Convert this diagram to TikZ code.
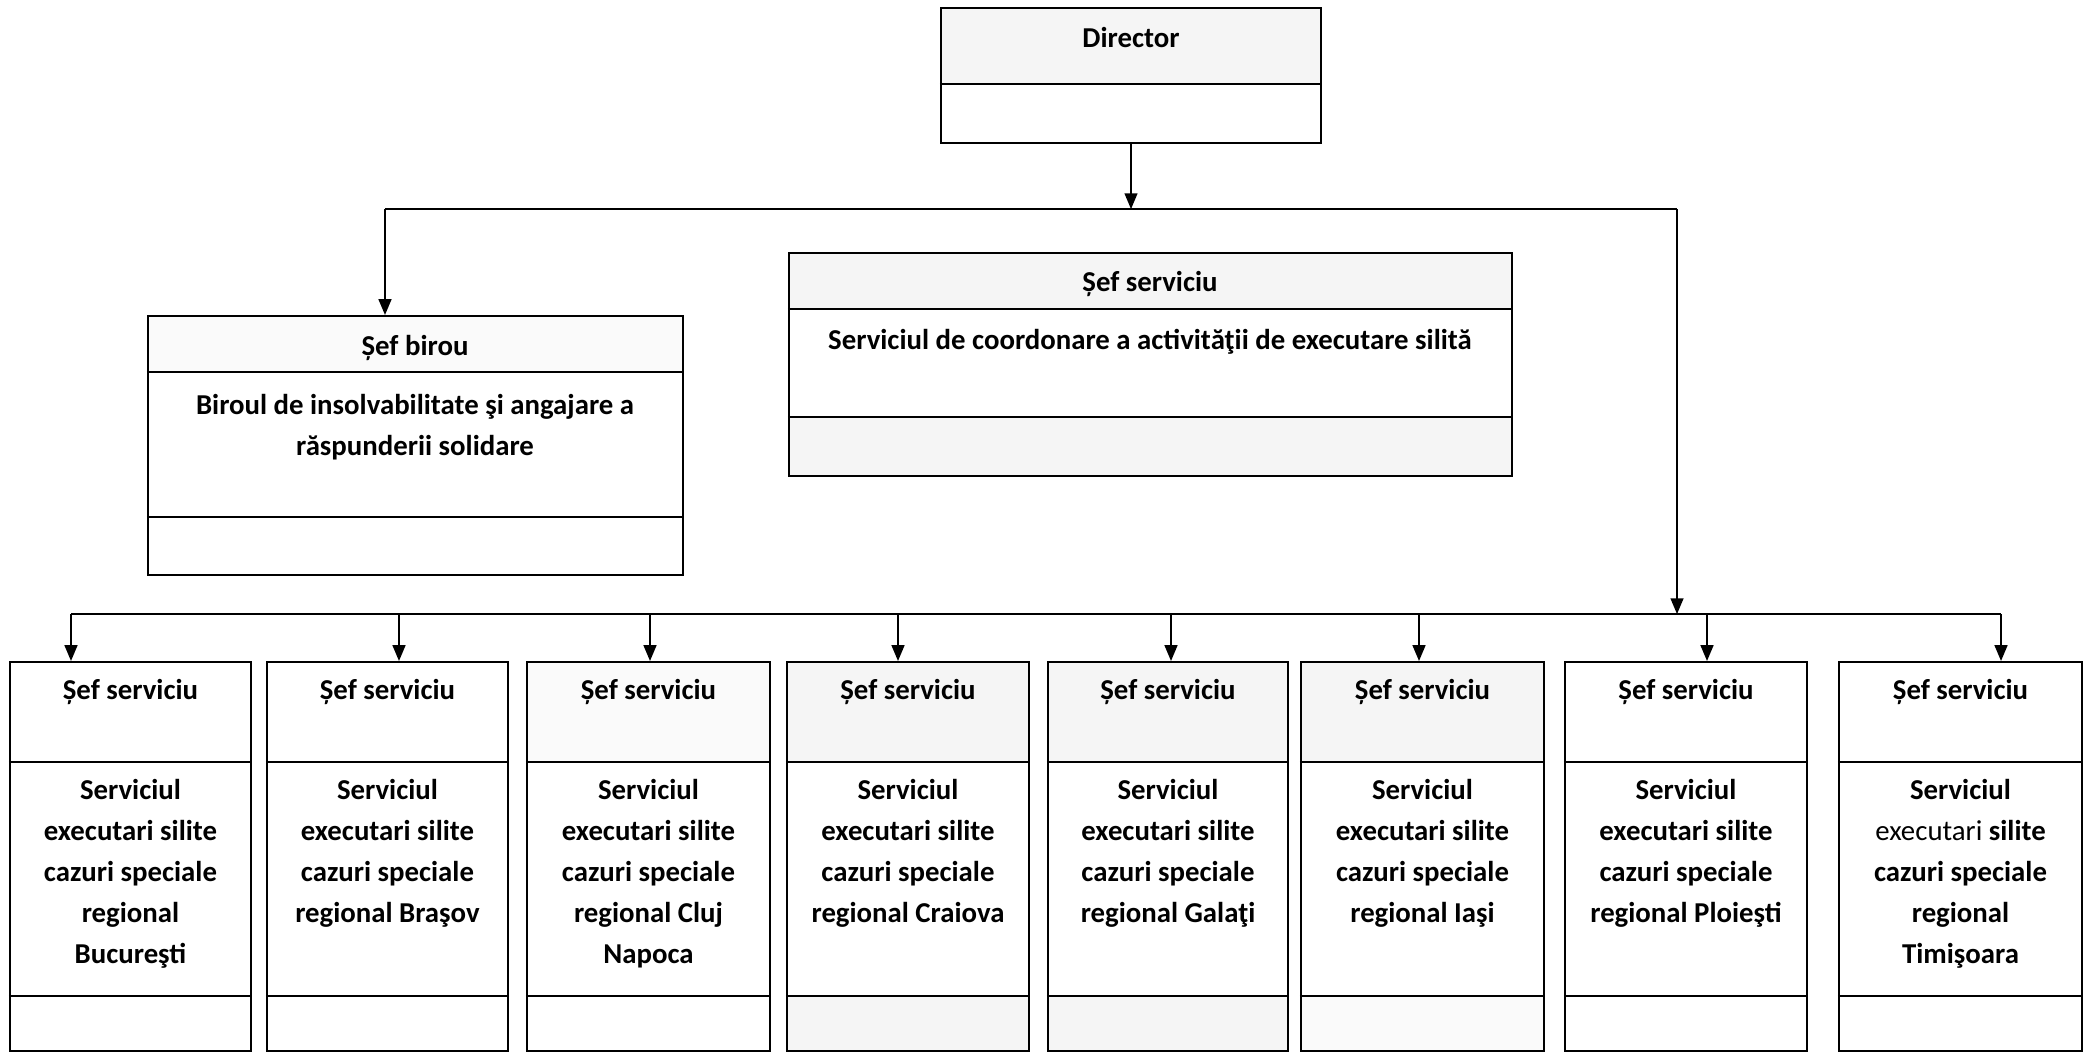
\documentclass[tikz,border=0pt]{standalone}
\usepackage{fontspec}
\setmainfont{Carlito}
\usepackage{tikz}
\usetikzlibrary{arrows,fit}

\begin{document}
\begin{tikzpicture}[>=triangle 45,x=0.5pt,y=-0.5pt,
		orgbox/.style={draw,line width=1.1pt,inner sep=0pt},
		speck/.style={fill=black!4},
		lbl/.style={font=\fontsize{14.4}{20.5}\selectfont\bfseries,align=center,inner sep=0pt},
		link/.style={line width=0.8pt}]
				\useasboundingbox (0,0) rectangle (2091,1054);

				% scanned grey in some parts of the boxes
				\fill[speck] (941,8) rectangle (1321,84);
				\fill[speck] (789,253) rectangle (1512,309);
				\fill[speck] (789,417) rectangle (1512,476);
				\fill[black!2] (148,316) rectangle (683,372);
				\fill[black!2] (527,662) rectangle (770,762);
				\fill[speck] (787,662) rectangle (1029,762);
				\fill[speck] (787,996) rectangle (1029,1051);
				\fill[speck] (1048,662) rectangle (1288,762);
				\fill[speck] (1048,996) rectangle (1288,1051);
				\fill[speck] (1301,662) rectangle (1544,762);
				\fill[black!2] (1301,996) rectangle (1544,1051);

				% director
				\node[orgbox,fit={(941,8) (1321,143)}] (director) {};
				\draw[line width=1.1pt] (director.west |- 0,84) -- (director.east |- 0,84);
				\node[lbl] (dirtext) at (1131,38) {Director};

				% sef birou
				\node[orgbox,fit={(148,316) (683,575)}] (birou) {};
				\draw[line width=1.1pt] (birou.west |- 0,372) -- (birou.east |- 0,372);
				\draw[line width=1.1pt] (birou.west |- 0,517) -- (birou.east |- 0,517);
				\node[lbl] (biroutitle) at (415,348) {Șef birou};
				\node[lbl,anchor=north] (biroutext) at (415,394) {Biroul de insolvabilitate şi angajare a\\ răspunderii solidare};

				% serviciul de coordonare
				\node[orgbox,fit={(789,253) (1512,476)}] (coord) {};
				\draw[line width=1.1pt] (coord.west |- 0,309) -- (coord.east |- 0,309);
				\draw[line width=1.1pt] (coord.west |- 0,417) -- (coord.east |- 0,417);
				\node[lbl] (coordtitle) at (1150,284) {Șef serviciu};
				\node[lbl] (coordtext) at (1150,342) {Serviciul de coordonare a activităţii de executare silită};

				% regional services
				\node[orgbox,fit={(10,662) (251,1051)}] (buc) {};
				\node[orgbox,fit={(267,662) (508,1051)}] (bra) {};
				\node[orgbox,fit={(527,662) (770,1051)}] (clj) {};
				\node[orgbox,fit={(787,662) (1029,1051)}] (cra) {};
				\node[orgbox,fit={(1048,662) (1288,1051)}] (gal) {};
				\node[orgbox,fit={(1301,662) (1544,1051)}] (ias) {};
				\node[orgbox,fit={(1565,662) (1807,1051)}] (plo) {};
				\node[orgbox,fit={(1839,662) (2082,1051)}] (tim) {};
				\foreach \b in {buc,bra,clj,cra,gal,ias,plo,tim}
				{
					\draw[line width=1.1pt] (\b.west |- 0,762) -- (\b.east |- 0,762);
					\draw[line width=1.1pt] (\b.west |- 0,996) -- (\b.east |- 0,996);
					\node[lbl] (\b title) at (\b.north |- 0,692) {Șef serviciu};
				}
				\node[lbl,anchor=north] (buctext) at (buc.north |- 0,779) {Serviciul\\ executari silite\\ cazuri speciale\\ regional\\ Bucureşti};
				\node[lbl,anchor=north] (bratext) at (bra.north |- 0,779) {Serviciul\\ executari silite\\ cazuri speciale\\ regional Braşov};
				\node[lbl,anchor=north] (cljtext) at (clj.north |- 0,779) {Serviciul\\ executari silite\\ cazuri speciale\\ regional Cluj\\ Napoca};
				\node[lbl,anchor=north] (cratext) at (cra.north |- 0,779) {Serviciul\\ executari silite\\ cazuri speciale\\ regional Craiova};
				\node[lbl,anchor=north] (galtext) at (gal.north |- 0,779) {Serviciul\\ executari silite\\ cazuri speciale\\ regional Galaţi};
				\node[lbl,anchor=north] (iastext) at (ias.north |- 0,779) {Serviciul\\ executari silite\\ cazuri speciale\\ regional Iaşi};
				\node[lbl,anchor=north] (plotext) at (plo.north |- 0,779) {Serviciul\\ executari silite\\ cazuri speciale\\ regional Ploieşti};
				\node[lbl,anchor=north] (timtext) at (tim.north |- 0,779) {Serviciul\\ {\mdseries executari} silite\\ cazuri speciale\\ regional\\ Timişoara};

				% connectors
				\coordinate (dirj) at (1131,209);
				\coordinate (birj) at (385,209);
				\coordinate (rightj) at (1677,209);
				\coordinate (busj) at (1677,614);
				\draw[->,link] (director.south) -- (dirj);
				\draw[link] (birj) -- (rightj);
				\draw[->,link] (birj) -- (birj |- birou.north);
				\draw[->,link] (rightj) -- (busj);

				\coordinate (bus1) at (71,614);
				\coordinate (bus2) at (399,614);
				\coordinate (bus3) at (650,614);
				\coordinate (bus4) at (898,614);
				\coordinate (bus5) at (1171,614);
				\coordinate (bus6) at (1419,614);
				\coordinate (bus7) at (1707,614);
				\coordinate (bus8) at (2001,614);
				\draw[link] (bus1) -- (bus8);
				\draw[->,link] (bus1) -- (bus1 |- buc.north);
				\draw[->,link] (bus2) -- (bus2 |- bra.north);
				\draw[->,link] (bus3) -- (bus3 |- clj.north);
				\draw[->,link] (bus4) -- (bus4 |- cra.north);
				\draw[->,link] (bus5) -- (bus5 |- gal.north);
				\draw[->,link] (bus6) -- (bus6 |- ias.north);
				\draw[->,link] (bus7) -- (bus7 |- plo.north);
				\draw[->,link] (bus8) -- (bus8 |- tim.north);

			\end{tikzpicture}
\end{document}
